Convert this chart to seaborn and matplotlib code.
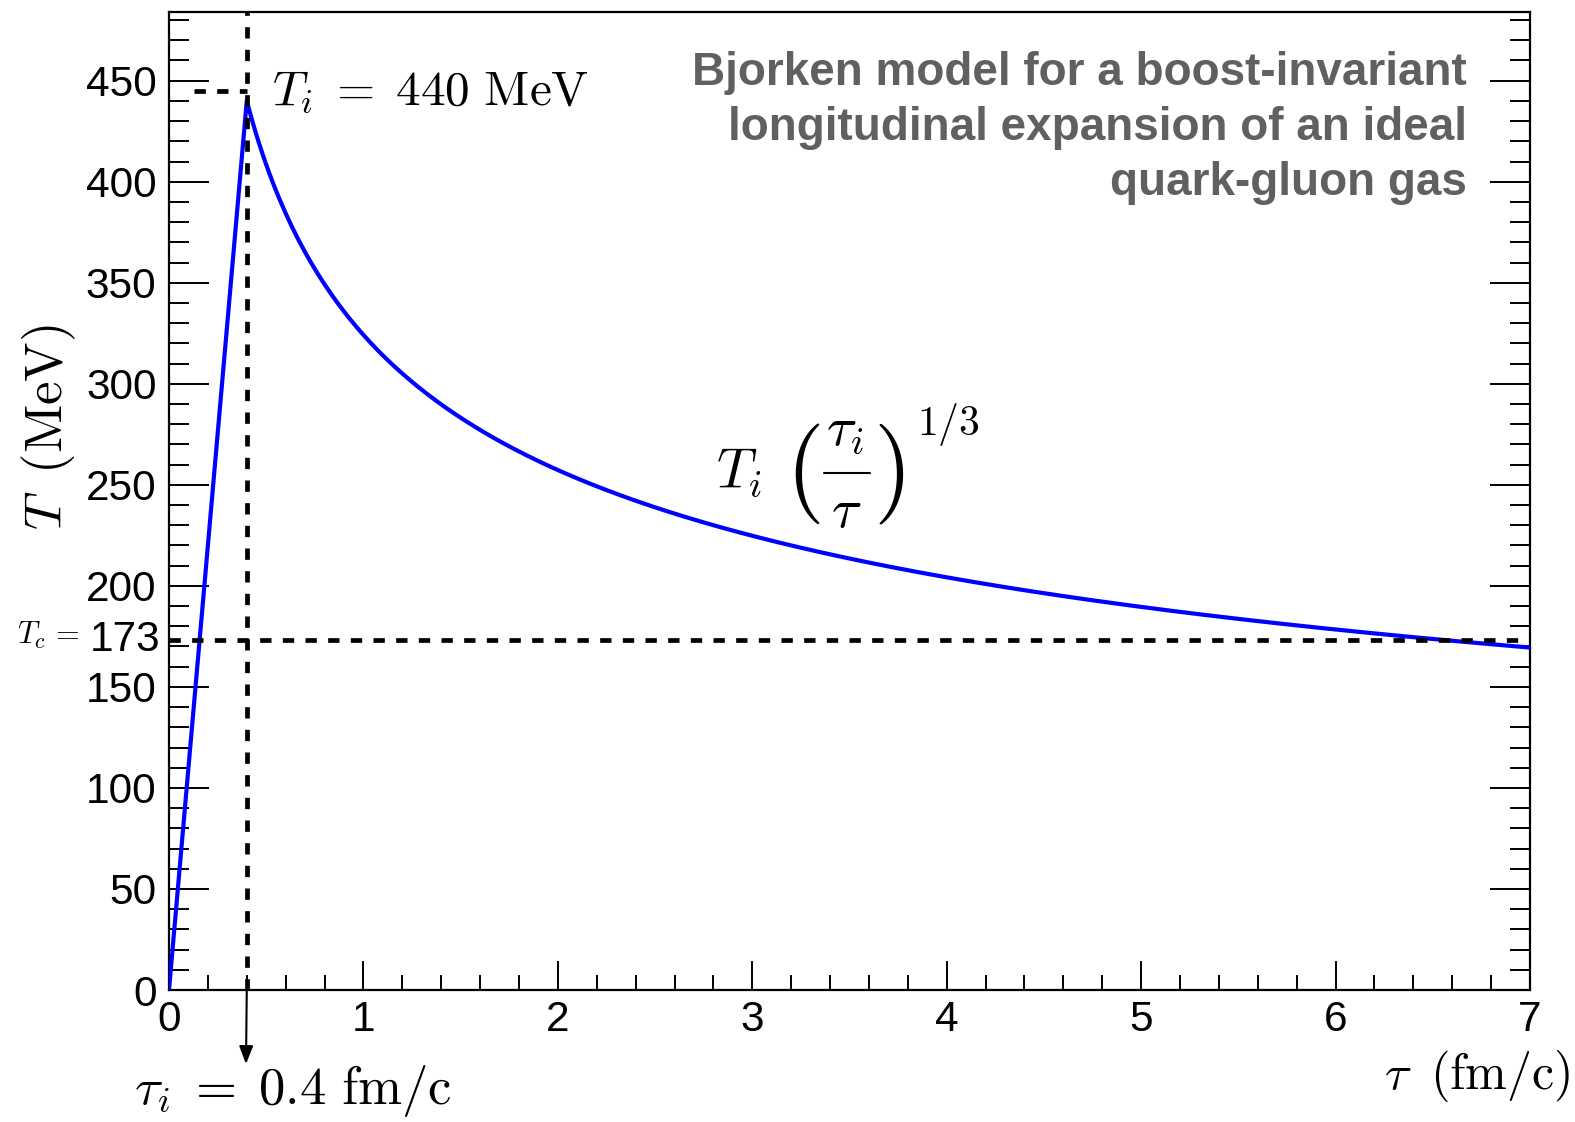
import numpy as np
import pandas as pd
import matplotlib
matplotlib.use("Agg")
import matplotlib.pyplot as plt
from matplotlib.lines import Line2D
from matplotlib.ticker import MultipleLocator
import seaborn as sns

# Bjorken cooling: linear heating up to tau_i, then T = T_i (tau_i / tau)^(1/3)
T_i = 440.0        # MeV, initial temperature
tau_i = 0.4        # fm/c, thermalisation time
T_c = 173.0        # MeV, critical temperature
T_i_guide = 445.0  # MeV, height of the short guide line beside T_i
tau_max = 7.0

x_ticks = [0, 1, 2, 3, 4, 5, 6, 7]
y_ticks = [0, 50, 100, 150, 200, 250, 300, 350, 400, 450]
y_top = 484

note_lines = ["Bjorken model for a boost-invariant",
              "longitudinal expansion of an ideal",
              "quark-gluon gas"]

tau_rise = np.array([0.0, tau_i])
T_rise = np.array([0.0, T_i])
tau_fall = np.linspace(tau_i, tau_max, 400)[1:]
T_fall = T_i * (tau_i / tau_fall) ** (1.0 / 3.0)
curve = pd.DataFrame({"tau": np.concatenate([tau_rise, tau_fall]),
                      "T": np.concatenate([T_rise, T_fall])})

sns.set_theme(style="ticks")
plt.rcParams["font.family"] = ["Liberation Sans", "DejaVu Sans"]
plt.rcParams["mathtext.fontset"] = "cm"
for key in ["text.color", "axes.labelcolor", "xtick.color", "ytick.color",
            "xtick.labelcolor", "ytick.labelcolor", "axes.edgecolor"]:
    plt.rcParams[key] = "black"

W, H = 1575, 1122
fig = plt.figure(figsize=(W / 100, H / 100), dpi=100)
L, R, B, T = 169, 1530, 990, 12
ax = fig.add_axes([L / W, 1 - B / H, (R - L) / W, (B - T) / H])

def fx(px):
    return px / W

def fy(py):
    return 1 - py / H

sns.lineplot(data=curve, x="tau", y="T", estimator=None, sort=False,
             color="#0000ff", lw=3.0, ax=ax, zorder=3)

dash = (0, (2.4, 2.4))
ax.plot([0, tau_max], [T_c, T_c], color="black", lw=3.4, ls=dash, zorder=4)
ax.plot([tau_i, tau_i], [0, y_top], color="black", lw=3.4, ls=dash, zorder=4)
ax.plot([0.13, tau_i], [T_i_guide, T_i_guide], color="black", lw=3.4, ls=dash, zorder=4)

ax.set_xlim(0, tau_max)
ax.set_ylim(0, y_top)
ax.set_xticks(x_ticks)
ax.set_yticks(y_ticks)
ax.xaxis.set_minor_locator(MultipleLocator(0.2))
ax.yaxis.set_minor_locator(MultipleLocator(10))
ax.set_xlabel("")
ax.set_ylabel("")

for s in ax.spines.values():
    s.set_linewidth(1.6)
    s.set_color("black")

ax.tick_params(axis="y", which="both", direction="in", left=True, right=True,
               width=1.4, color="black", labelsize=30.5, labelcolor="black", pad=9)
ax.tick_params(axis="y", which="major", length=29)
ax.tick_params(axis="y", which="minor", length=14.5)
ax.tick_params(axis="x", which="both", direction="in", bottom=True, top=False,
               width=1.4, color="black", labelsize=30.5, labelcolor="black", pad=7)
ax.tick_params(axis="x", which="major", length=21)
ax.tick_params(axis="x", which="minor", length=11)

# T_c value on the y axis
ax.text(-9 / (R - L), T_c, "173", transform=ax.get_yaxis_transform(),
        ha="right", va="center", fontsize=30.5, color="black")
fig.text(fx(80), fy(644), r"$T_c\, =$", ha="right", va="baseline", fontsize=22)

# arrow pointing at tau_i
ax.annotate("", xy=(fx(246), fy(1064)), xycoords="figure fraction",
            xytext=(tau_i, 0), textcoords="data",
            arrowprops=dict(arrowstyle="-|>,head_length=0.9,head_width=0.35",
                            color="black", lw=1.5, shrinkA=0, shrinkB=0),
            annotation_clip=False)

fig.text(fx(134), fy(1104), r"$\tau_i\; =\; 0.4\ \mathrm{fm/c}$",
         ha="left", va="baseline", fontsize=38)
fig.text(fx(272), fy(105), r"$T_i\; =\; 440\ \mathrm{MeV}$",
         ha="left", va="baseline", fontsize=35.5)

# cooling law T_i (tau_i / tau)^(1/3), set piece by piece
fig.text(fx(716), fy(488), r"$T_i$", ha="left", va="baseline", fontsize=40)
fig.text(fx(803), fy(474), r"$($", ha="center", va="center", fontsize=72)
fig.text(fx(889), fy(474), r"$)$", ha="center", va="center", fontsize=72)
fig.text(fx(845), fy(445), r"$\tau_i$", ha="center", va="baseline", fontsize=40)
fig.add_artist(Line2D([fx(824), fx(870)], [fy(473), fy(473)],
                      lw=1.5, color="black"))
fig.text(fx(846), fy(527), r"$\tau$", ha="center", va="baseline", fontsize=40)
fig.text(fx(917), fy(435), r"$1/3$", ha="left", va="baseline", fontsize=30)

fig.text(fx(1570), fy(1089), r"$\tau\;\;(\mathrm{fm/c})$",
         ha="right", va="baseline", fontsize=36)
fig.text(fx(49), fy(427), r"$T\;\;(\mathrm{MeV})$", rotation=90,
         ha="center", va="center", fontsize=38)

for i, line in enumerate(note_lines):
    fig.text(fx(1467), fy(85 + 55 * i), line, ha="right", va="baseline",
             fontsize=33, fontweight="bold", color="#606060")

fig.savefig("out.png", dpi=100)
